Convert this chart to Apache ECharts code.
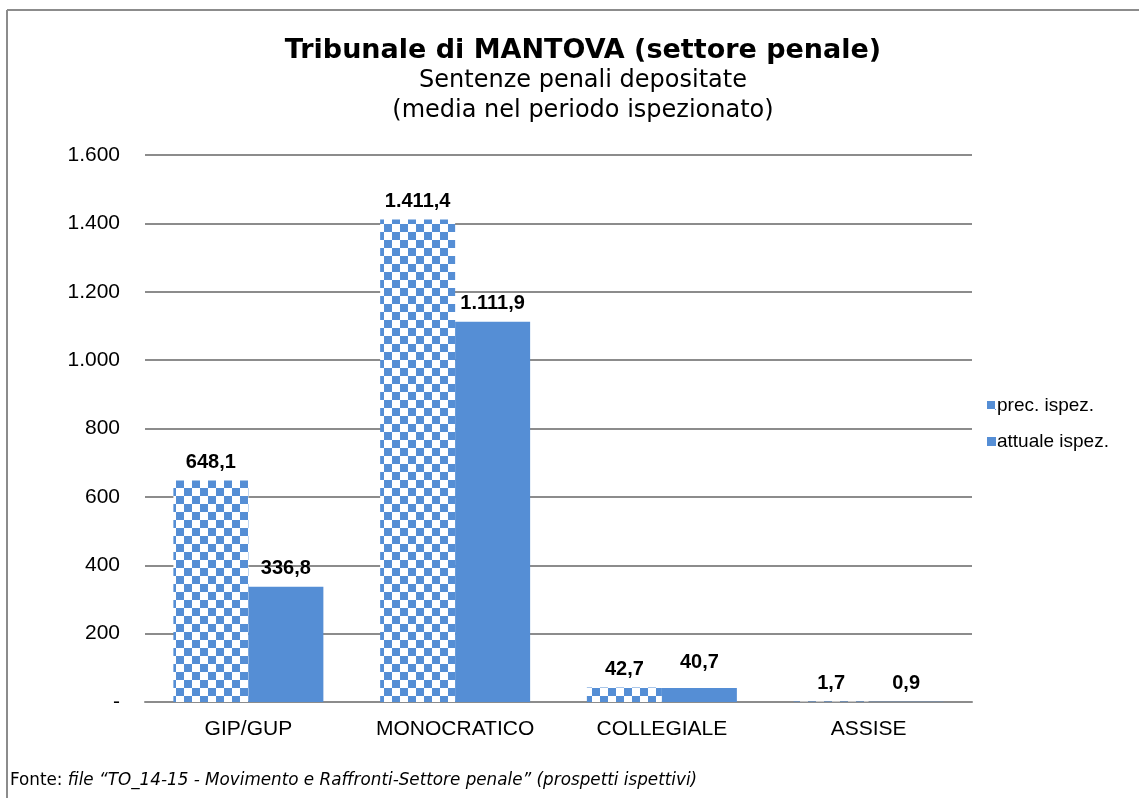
<!DOCTYPE html>
<html>
<head>
<meta charset="utf-8">
<script src="https://cdn.jsdelivr.net/npm/echarts@6/dist/echarts.min.js"></script>
<style>
html, body { margin: 0; padding: 0; background: #fff; }
#main { width: 1139px; height: 798px; }
</style>
</head>
<body>
<div id="main"></div>
<script>
var categories = ['GIP/GUP', 'MONOCRATICO', 'COLLEGIALE', 'ASSISE'];
var precIspez = [648.1, 1411.4, 42.7, 1.7];
var attualeIspez = [336.8, 1111.9, 40.7, 0.9];
var seriesNames = ['prec. ispez.', 'attuale ispez.'];

var blue = '#558ed5';

// formatta i numeri all'italiana
function fmtIt(v, dec) {
	var s = v.toFixed(dec);
	var parts = s.split('.');
	var intPart = parts[0].replace(/\B(?=(\d{3})+(?!\d))/g, '.');
	return parts.length > 1 ? intPart + ',' + parts[1] : intPart;
}

// scacchiera per la serie precedente
function checker() {
	var c = document.createElement('canvas');
	c.width = 16;
	c.height = 16;
	var ctx = c.getContext('2d');
	ctx.fillStyle = '#fff';
	ctx.fillRect(0, 0, 16, 16);
	ctx.fillStyle = blue;
	ctx.fillRect(0, 0, 8, 8);
	ctx.fillRect(8, 8, 8, 8);
	return c;
}

var myChart = echarts.init(document.getElementById('main'));

var labelStyle = {
	show: true,
	position: 'top',
	distance: 8,
	color: '#000',
	fontSize: 20,
	fontWeight: 'bold',
	fontFamily: 'Liberation Sans, Arial, sans-serif',
	formatter: function (p) { return fmtIt(p.value, 1); }
};

// in COLLEGIALE l'etichetta della serie attuale sta un po' piu' in alto
var attualeData = [];
for (var i = 0; i < attualeIspez.length; i++) {
	if (i === 2) {
		attualeData.push({ value: attualeIspez[i], label: { offset: [0, -8] } });
	} else {
		attualeData.push(attualeIspez[i]);
	}
}

var option = {
	backgroundColor: '#fff',
	animation: false,
	title: {
		text: 'Tribunale di MANTOVA (settore penale)',
		subtext: 'Sentenze penali depositate\n(media nel periodo ispezionato)',
		left: 578,
		textAlign: 'center',
		top: 32,
		itemGap: 2,
		textStyle: { fontFamily: 'DejaVu Sans', fontSize: 27, fontWeight: 'bold', color: '#000' },
		subtextStyle: { fontFamily: 'DejaVu Sans', fontSize: 24, color: '#000', lineHeight: 30 }
	},
	legend: {
		orient: 'vertical',
		left: 982,
		top: 391,
		itemWidth: 9,
		itemHeight: 9,
		itemGap: 17,
		icon: 'rect',
		textStyle: { fontFamily: 'Liberation Sans, Arial', fontSize: 19, color: '#000', padding: [0, 0, 0, -4] },
		data: seriesNames
	},
	grid: { left: 145, right: 167, top: 155, bottom: 96 },
	xAxis: {
		type: 'category',
		data: categories,
		axisTick: { show: false },
		axisLine: { lineStyle: { color: '#8c8c8c', width: 2 } },
		axisLabel: { color: '#000', fontSize: 21, fontFamily: 'Liberation Sans, Arial', margin: 17 }
	},
	yAxis: {
		type: 'value',
		min: 0,
		max: 1600,
		interval: 200,
		axisLine: { show: false },
		axisTick: { show: false },
		splitLine: { lineStyle: { color: '#8c8c8c', width: 2 } },
		axisLabel: {
			color: '#000', fontSize: 21, fontFamily: 'Liberation Sans, Arial', margin: 25,
			formatter: function (v) { return v === 0 ? '-' : fmtIt(v, 0); }
		}
	},
	series: [
		{
			name: seriesNames[0],
			type: 'bar',
			data: precIspez,
			barWidth: 75,
			barGap: '0%',
			itemStyle: { color: { image: checker(), repeat: 'repeat' } },
			label: labelStyle
		},
		{
			name: seriesNames[1],
			type: 'bar',
			data: attualeData,
			barWidth: 75,
			itemStyle: { color: blue },
			label: labelStyle
		}
	],
	graphic: [
		{ type: 'line', shape: { x1: 7, y1: 10, x2: 1139, y2: 10 }, style: { stroke: '#8c8c8c', lineWidth: 2 } },
		{ type: 'line', shape: { x1: 7, y1: 10, x2: 7, y2: 798 }, style: { stroke: '#8c8c8c', lineWidth: 2 } },
		{
			type: 'text', left: 10, top: 772,
			style: {
				rich: {
					a: { fontFamily: 'DejaVu Sans', fontSize: 16.8, fill: '#000' },
					b: { fontFamily: 'DejaVu Sans', fontSize: 16.8, fontStyle: 'italic', fill: '#000' }
				},
				text: '{a|Fonte: }{b|file \u201cTO_14-15 - Movimento e Raffronti-Settore penale\u201d (prospetti ispettivi)}'
			}
		}
	]
};

myChart.setOption(option);
</script>
</body>
</html>
